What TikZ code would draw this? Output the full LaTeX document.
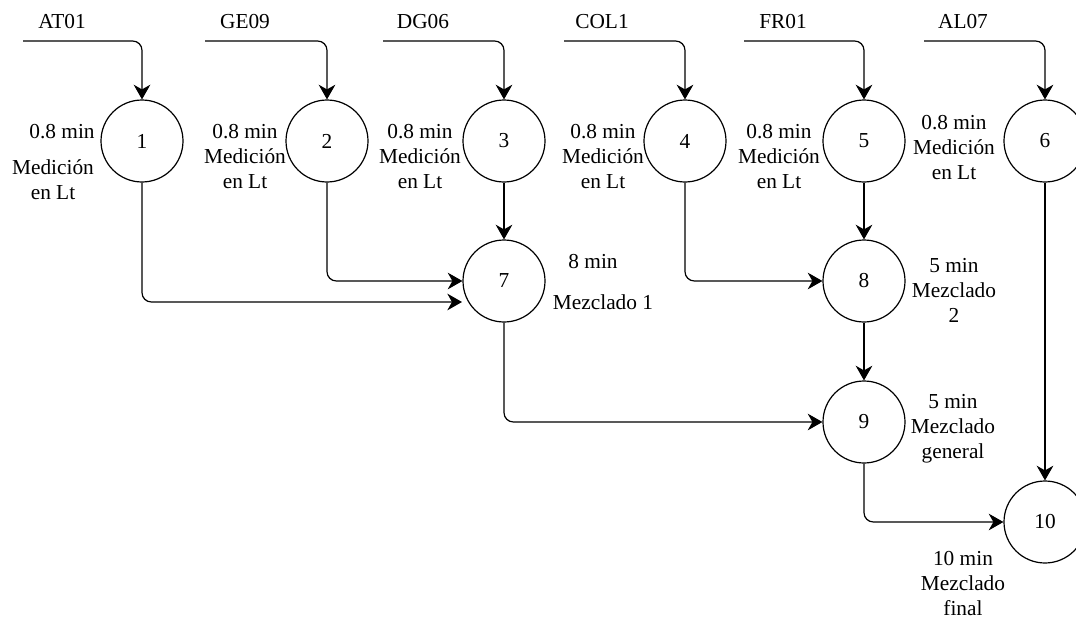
\documentclass[tikz,border=0pt]{standalone}
\usepackage{fontspec}
\setmainfont{Liberation Serif}
\usetikzlibrary{arrows.meta}
\tikzset{
  proc/.style={draw, circle, line width=0.9pt, minimum size=61.5pt, inner sep=0pt,
    font=\fontsize{16}{18.75}\selectfont},
  lbl/.style={align=center, inner sep=0pt, font=\fontsize{16}{18.75}\selectfont},
  flow/.style={line width=0.9pt, rounded corners=7pt,
    -{Stealth[length=11pt,width=12.5pt,inset=3.5pt]}},
}
\begin{document}
\begin{tikzpicture}[x=0.75pt,y=-0.75pt]
    \useasboundingbox (0,0) rectangle (1076,621);
    % steps
    \node[proc] (p1) at (142,141) {1};
    \node[proc] (p2) at (327,141) {2};
    \node[proc] (p3) at (504,141) {3};
    \node[proc] (p4) at (685,141) {4};
    \node[proc] (p5) at (864,141) {5};
    \node[proc] (p6) at (1045,141) {6};
    \node[proc] (p7) at (504,281) {7};
    \node[proc] (p8) at (864,281) {8};
    \node[proc] (p9) at (864,422) {9};
    \node[proc] (p10) at (1045,522) {10};
    %
    \node[lbl] (in1) at (62,22) {AT01};
    \node[lbl] (in2) at (245,22) {GE09};
    \node[lbl] (in3) at (423,22) {DG06};
    \node[lbl] (in4) at (602,22) {COL1};
    \node[lbl] (in5) at (783,22) {FR01};
    \node[lbl] (in6) at (963,22) {AL07};
    \coordinate (s1) at (23,41);
    \coordinate (s2) at (205,41);
    \coordinate (s3) at (383,41);
    \coordinate (s4) at (564,41);
    \coordinate (s5) at (744,41);
    \coordinate (s6) at (924,41);
    %
    \node[lbl] (t1) at (62,132) {0.8 min};
    \node[lbl] (d1) at (53,180) {Medición\\en Lt};
    \node[lbl] (d2) at (245,157) {0.8 min\\Medición\\en Lt};
    \node[lbl] (d3) at (420,157) {0.8 min\\Medición\\en Lt};
    \node[lbl] (d4) at (603,157) {0.8 min\\Medición\\en Lt};
    \node[lbl] (d5) at (779,157) {0.8 min\\Medición\\en Lt};
    \node[lbl] (d6) at (954,148) {0.8 min\\Medición\\en Lt};
    \node[lbl] (t7) at (593,262) {8 min};
    \node[lbl] (d7) at (603,302) {Mezclado 1};
    \node[lbl] (d8) at (954,290) {5 min\\Mezclado\\2};
    \node[lbl] (d9) at (953,429) {5 min\\Mezclado\\general};
    \node[lbl] (d10) at (963,584) {10 min\\Mezclado\\final};
    %
    \draw[flow] (s1) -| (p1);
    \draw[flow] (s2) -| (p2);
    \draw[flow] (s3) -| (p3);
    \draw[flow] (s4) -| (p4);
    \draw[flow] (s5) -| (p5);
    \draw[flow] (s6) -| (p6);
    %
    \coordinate (p7in) at (462,302);
    \draw[flow] (p1) |- (p7in);
    \draw[flow] (p2) |- (p7);
    \draw[flow] (p3) -- (p7);
    \draw[flow] (p4) |- (p8);
    \draw[flow] (p5) -- (p8);
    \draw[flow] (p8) -- (p9);
    \draw[flow] (p7) |- (p9);
    \draw[flow] (p9) |- (p10);
    \draw[flow] (p6) -- (p10);
\end{tikzpicture}
\end{document}
